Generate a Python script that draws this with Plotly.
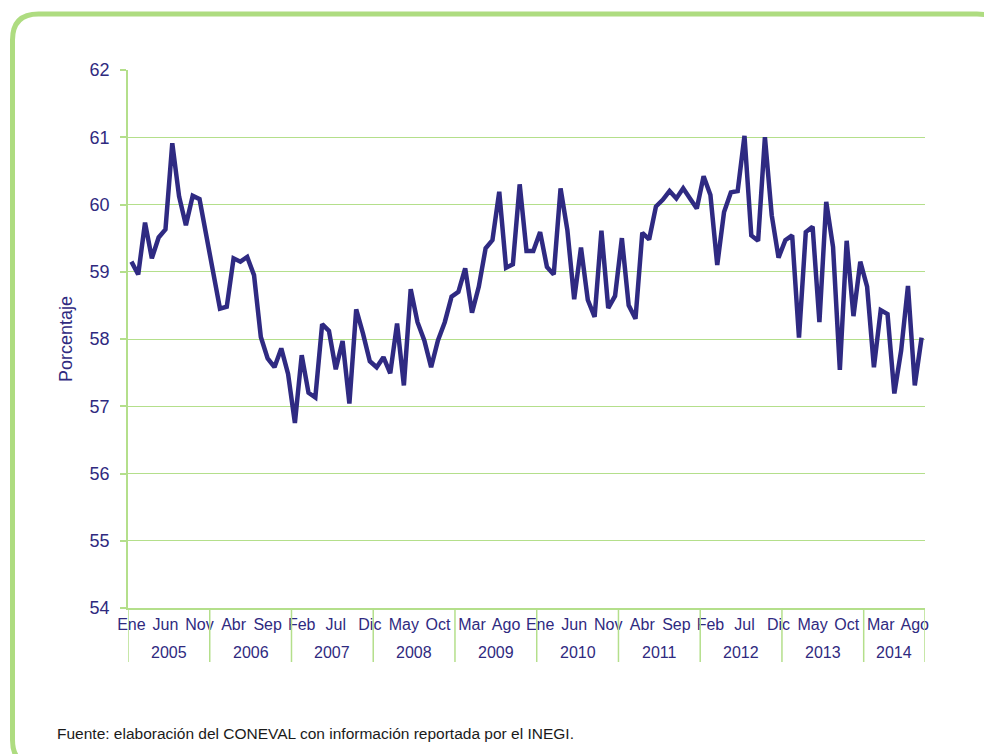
import plotly.graph_objects as go

# ---------------- data ----------------
month_names = ["Ene", "Feb", "Mar", "Abr", "May", "Jun", "Jul", "Ago", "Sep", "Oct", "Nov", "Dic"]
years = [2005, 2006, 2007, 2008, 2009, 2010, 2011, 2012, 2013, 2014]
months_in_year = [12, 12, 12, 12, 12, 12, 12, 12, 12, 9]

values = [
    59.15, 58.96, 59.73, 59.20, 59.51, 59.63, 60.91, 60.12, 59.69, 60.13, 60.08, 59.55,
    59.05, 58.45, 58.48, 59.20, 59.15, 59.22, 58.95, 58.03, 57.71, 57.58, 57.86, 57.48,
    56.75, 57.76, 57.20, 57.13, 58.22, 58.12, 57.55, 57.97, 57.04, 58.44, 58.08, 57.67,
    57.58, 57.73, 57.49, 58.23, 57.31, 58.74, 58.25, 57.98, 57.58, 57.98, 58.25, 58.63,
    58.70, 59.05, 58.39, 58.78, 59.35, 59.47, 60.19, 59.06, 59.11, 60.30, 59.31, 59.31,
    59.59, 59.07, 58.96, 60.24, 59.62, 58.59, 59.36, 58.58, 58.33, 59.61, 58.46, 58.64,
    59.50, 58.50, 58.30, 59.58, 59.48, 59.97, 60.07, 60.20, 60.09, 60.24, 60.09, 59.94,
    60.42, 60.14, 59.10, 59.89, 60.18, 60.20, 61.02, 59.54, 59.46, 61.00, 59.84, 59.21,
    59.47, 59.54, 58.02, 59.59, 59.67, 58.25, 60.04, 59.37, 57.54, 59.46, 58.34, 59.15,
    58.78, 57.58, 58.43, 58.37, 57.19, 57.83, 58.79, 57.31, 58.02,
]

y_ticks = [54, 55, 56, 57, 58, 59, 60, 61, 62]
y_title = "Porcentaje"
source_note = "Fuente: elaboración del CONEVAL con información reportada por el INEGI."
label_every = 5

# ---------------- derived categories ----------------
categories = []
cat_month = []
for yr, n in zip(years, months_in_year):
    for m in range(n):
        categories.append(f"{month_names[m]} {yr}")
        cat_month.append(month_names[m])

tickvals = categories[::label_every]
ticktext = cat_month[::label_every]

# ---------------- style ----------------
W, H = 984, 754
ML, MR, MT, MB = 128, 59, 70, 146
PW, PH = W - ML - MR, H - MT - MB
GREEN = "#b4df8b"
FRAME = "#aedc80"
NAVY = "#2f2a82"
TXT = "#2f2a7f"
FONT = "Liberation Sans, Arial, sans-serif"


def px_x(x):
    return (x - ML) / PW


def px_y(y):
    return (H - MB - y) / PH


fig = go.Figure()
fig.add_trace(go.Scatter(
    x=categories, y=values, mode="lines",
    line=dict(color=NAVY, width=4.5),
    hoverinfo="x+y", showlegend=False,
))

shapes = []
# rounded green frame (pixel layout converted to paper coords)
L, T, R, B, r = 12.5, 14, 1003, 766, 26
path = (
    f"M {px_x(L)},{px_y(T + r)} "
    f"Q {px_x(L)},{px_y(T)} {px_x(L + r)},{px_y(T)} "
    f"L {px_x(R - r)},{px_y(T)} "
    f"Q {px_x(R)},{px_y(T)} {px_x(R)},{px_y(T + r)} "
    f"L {px_x(R)},{px_y(B - r)} "
    f"Q {px_x(R)},{px_y(B)} {px_x(R - r)},{px_y(B)} "
    f"L {px_x(L + r)},{px_y(B)} "
    f"Q {px_x(L)},{px_y(B)} {px_x(L)},{px_y(B - r)} Z"
)
shapes.append(dict(type="path", xref="paper", yref="paper", path=path,
                   line=dict(color=FRAME, width=5), fillcolor="rgba(0,0,0,0)", layer="below"))

# year dividers
annotations = []
start = 0
bounds = [-0.5]
for yr, n in zip(years, months_in_year):
    start += n
    bounds.append(start - 0.5)
for b in bounds:
    shapes.append(dict(type="line", xref="x", yref="paper", x0=b, x1=b,
                       y0=0, y1=px_y(662), line=dict(color=GREEN, width=1.5)))
for i, yr in enumerate(years):
    mid = (bounds[i] + bounds[i + 1]) / 2
    annotations.append(dict(x=mid, y=px_y(652), xref="x", yref="paper",
                            text=str(yr), showarrow=False, yanchor="middle",
                            font=dict(size=16, color=TXT, family=FONT)))

annotations.append(dict(x=px_x(55), y=px_y(733), xref="paper", yref="paper",
                        xanchor="left", yanchor="middle", text=source_note, showarrow=False,
                        font=dict(size=15.5, color="#1a1a1a", family=FONT)))

fig.update_layout(
    width=W, height=H,
    margin=dict(l=ML, r=MR, t=MT, b=MB, autoexpand=False),
    paper_bgcolor="white", plot_bgcolor="white",
    font=dict(family=FONT, color=TXT),
    shapes=shapes, annotations=annotations,
    xaxis=dict(
        type="category", range=[-0.5, len(categories) - 0.5],
        tickmode="array", tickvals=tickvals, ticktext=ticktext,
        showgrid=False, zeroline=False, showline=True, linecolor=GREEN, linewidth=1.5,
        ticks="", tickfont=dict(size=16, color=TXT, family=FONT), tickangle=0,
        ticklabelstandoff=1,
    ),
    yaxis=dict(
        range=[54, 62], tickmode="array", tickvals=y_ticks,
        showgrid=True, gridcolor=GREEN, gridwidth=1,
        zeroline=False, showline=True, linecolor=GREEN, linewidth=1.5,
        ticks="outside", ticklen=6, tickcolor=GREEN, tickwidth=1.5,
        tickfont=dict(size=18, color=TXT, family=FONT),
        ticklabelstandoff=7,
        title=dict(text=y_title, font=dict(size=18, color=TXT, family=FONT), standoff=12),
    ),
)

fig.write_html(
    "out.html",
    config={"displayModeBar": False},
    post_script="document.body.style.margin='0';document.body.style.padding='0';"
                "document.body.style.overflow='hidden';",
)
